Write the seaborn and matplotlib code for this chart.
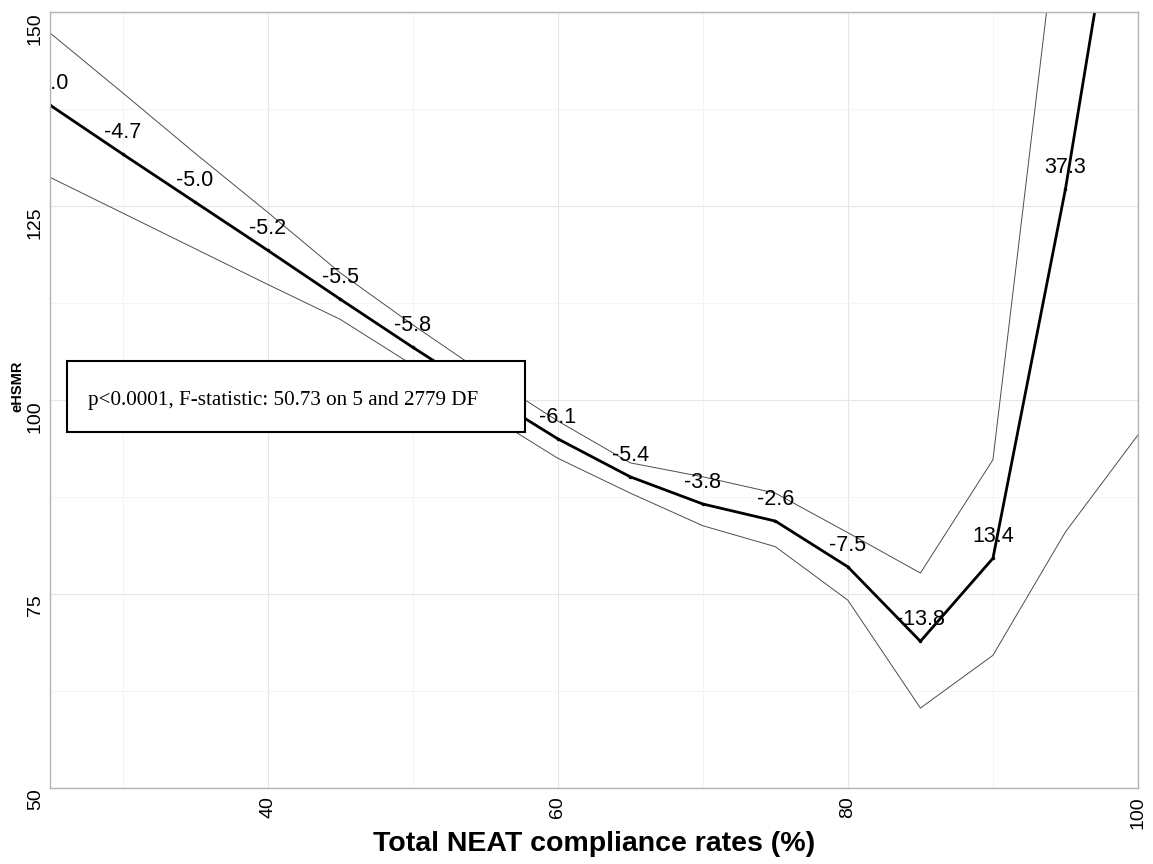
import matplotlib
matplotlib.use("Agg")
import matplotlib.pyplot as plt
from matplotlib.patches import Rectangle
from matplotlib.ticker import MultipleLocator
import pandas as pd
import seaborn as sns

# Compliance bins (%)
compliance = [25, 30, 35, 40, 45, 50, 55, 60, 65, 70, 75, 80, 85, 90, 95, 100]
# Estimated eHSMR and its confidence limits per bin
ehsmr = [138.0, 131.7, 125.5, 119.3, 113.0, 106.8, 100.8, 95.0, 90.1, 86.6,
         84.4, 78.5, 68.9, 79.6, 127.2, 183.8]
upper = [147.3, 139.6, 131.8, 124.2, 116.4, 109.7, 103.3, 97.3, 91.9, 90.1,
         88.0, 82.9, 77.7, 92.3, 170.4, 272.5]
lower = [128.7, 124.1, 119.5, 114.9, 110.4, 104.5, 98.3, 92.5, 88.0, 83.8,
         81.1, 74.2, 60.3, 67.1, 83.0, 95.5]
# Percent change versus the previous bin
pct_change = ["-4.0", "-4.7", "-5.0", "-5.2", "-5.5", "-5.8", "-6.0", "-6.1",
              "-5.4", "-3.8", "-2.6", "-7.5", "-13.8", "13.4", "37.3", "44.6"]

model_note = "p<0.0001, F-statistic: 50.73 on 5 and 2779 DF"

df = pd.DataFrame({"x": compliance, "fit": ehsmr, "hi": upper, "lo": lower,
                   "lab": pct_change})

sns.set_theme(style="white")
plt.rcParams["font.family"] = ["Liberation Sans", "DejaVu Sans"]
plt.rcParams["text.color"] = "black"
plt.rcParams["axes.labelcolor"] = "black"

YMIN, YMAX = 50, 150

fig = plt.figure(figsize=(11.53, 8.64), dpi=100)
ax = fig.add_axes([50 / 1153, 1 - 788 / 864, (1138 - 50) / 1153, (788 - 12) / 864])

# Confidence limits
sns.lineplot(data=df, x="x", y="hi", ax=ax, color="#4d4d4d", linewidth=0.7,
             estimator=None, sort=False)
sns.lineplot(data=df, x="x", y="lo", ax=ax, color="#4d4d4d", linewidth=0.7,
             estimator=None, sort=False)
# Fitted line with point markers
sns.lineplot(data=df, x="x", y="fit", ax=ax, color="black", linewidth=2.0,
             estimator=None, sort=False, marker="o", markersize=2.5,
             markeredgewidth=0)

# Percent-change labels above each point (only those inside the panel)
for xi, yi, lab in zip(df["x"], df["fit"], df["lab"]):
    ty = yi + 2.1
    if ty > YMAX:
        continue
    ax.text(xi, ty, lab, ha="center", va="baseline", fontsize=15.5,
            color="black", clip_on=True, zorder=4)

ax.set_xlim(25, 100)
ax.set_ylim(YMIN, YMAX)
ax.xaxis.set_major_locator(MultipleLocator(20))
ax.xaxis.set_minor_locator(MultipleLocator(10))
ax.yaxis.set_major_locator(MultipleLocator(25))
ax.yaxis.set_minor_locator(MultipleLocator(12.5))
ax.set_xticks([40, 60, 80, 100])

ax.grid(which="major", color="#e6e6e6", linewidth=0.8)
ax.grid(which="minor", color="#f3f3f3", linewidth=0.6)
ax.set_axisbelow(True)

for sp in ax.spines.values():
    sp.set_visible(True)
    sp.set_color("#b3b3b3")
    sp.set_linewidth(1.0)

ax.tick_params(axis="both", which="major", direction="out", length=4,
               width=0.8, color="#b3b3b3", labelsize=14, labelcolor="black",
               pad=2)
ax.tick_params(axis="y", which="major", pad=0.5)
ax.tick_params(axis="both", which="minor", length=0)
for t in ax.get_xticklabels():
    t.set_rotation(90)
    t.set_va("top")
    t.set_ha("center")
for t in ax.get_yticklabels():
    t.set_rotation(90)
    t.set_va("top")
    t.set_ha("right")

ax.set_xlabel("Total NEAT compliance rates (%)", fontsize=20.5,
              fontweight="bold", color="black")
ax.xaxis.set_label_coords(0.5, -(844 - 788) / 776)
ax.xaxis.label.set_va("center")
ax.set_ylabel("eHSMR", fontsize=10.5, fontweight="bold", color="black")
ax.yaxis.set_label_coords((17 - 50) / 1088, (788 - 386) / 776)
ax.yaxis.label.set_va("center")

# Model summary box
box = Rectangle((26.17, 95.9), 57.74 - 26.17, 105.0 - 95.9, facecolor="white",
                edgecolor="black", linewidth=1.5, zorder=6)
ax.add_patch(box)
ax.text(27.6, 99.35, model_note, ha="left", va="baseline", fontsize=15.2,
        family=["Liberation Serif", "DejaVu Serif"], color="black", zorder=7)

fig.savefig("out.png", dpi=100)
